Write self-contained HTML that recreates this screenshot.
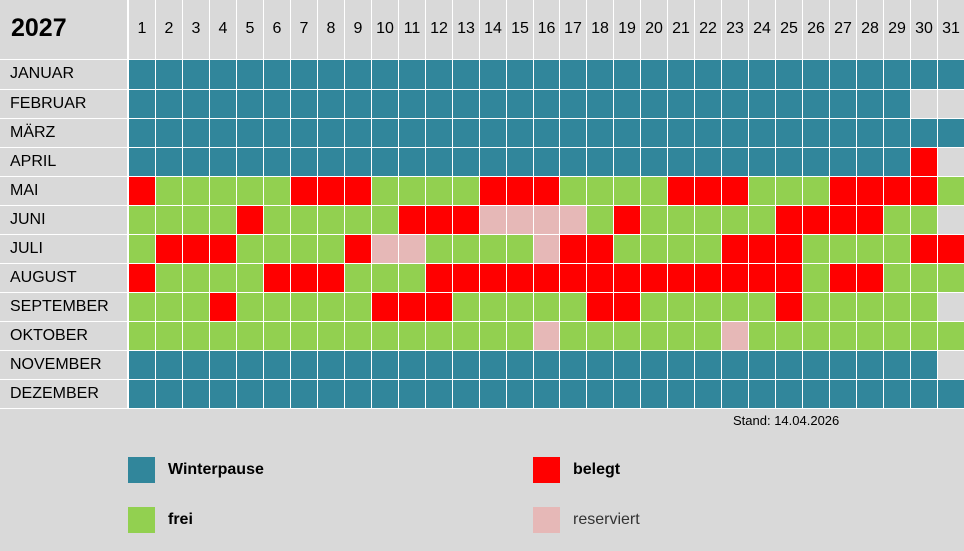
<!DOCTYPE html>
<html><head><meta charset="utf-8"><style>
body{margin:0;width:964px;height:551px;background:#D9D9D9;position:relative;overflow:hidden;font-family:"Liberation Sans",Calibri,sans-serif;}
#g{position:absolute;left:0;top:0;width:964px;height:409px;background:#fff;}
.c{position:absolute;}
.t{position:absolute;font-size:16px;color:#000;white-space:nowrap;}
</style></head><body>
<div id="g"></div>
<div class="t" style="left:11px;top:14px;font-size:25px;font-weight:bold;">2027</div>
<div class="t" style="left:733px;top:413px;font-size:13px;">Stand: 14.04.2026</div>
<div class="c" style="left:128px;top:457px;width:27px;height:26px;background:#31869B"></div>
<div class="t" style="left:168px;top:461px;font-weight:bold;">Winterpause</div>
<div class="c" style="left:128px;top:507px;width:27px;height:26px;background:#92D050"></div>
<div class="t" style="left:168px;top:511px;font-weight:bold;">frei</div>
<div class="c" style="left:533px;top:457px;width:27px;height:26px;background:#FF0000"></div>
<div class="t" style="left:573px;top:461px;font-weight:bold;">belegt</div>
<div class="c" style="left:533px;top:507px;width:27px;height:26px;background:#E6B8B7"></div>
<div class="t" style="left:573px;top:511px;color:#333;">reserviert</div>
<script>
var C={T:'#31869B',G:'#92D050',R:'#FF0000',P:'#E6B8B7',X:'#D9D9D9'};
var months=['JANUAR','FEBRUAR','MÄRZ','APRIL','MAI','JUNI','JULI','AUGUST','SEPTEMBER','OKTOBER','NOVEMBER','DEZEMBER'];
var rows=[
'TTTTTTTTTTTTTTTTTTTTTTTTTTTTTTT',
'TTTTTTTTTTTTTTTTTTTTTTTTTTTTTXX',
'TTTTTTTTTTTTTTTTTTTTTTTTTTTTTTT',
'TTTTTTTTTTTTTTTTTTTTTTTTTTTTTRX',
'RGGGGGRRRGGGGRRRGGGGRRRGGGRRRRG',
'GGGGRGGGGGRRRPPPPGRGGGGGRRRRGGX',
'GRRRGGGGRPPGGGGPRRGGGGRRRGGGGRR',
'RGGGGRRRGGGRRRRRRRRRRRRRRGRRGGG',
'GGGRGGGGGRRRGGGGGRRGGGGGRGGGGGX',
'GGGGGGGGGGGGGGGPGGGGGGPGGGGGGGG',
'TTTTTTTTTTTTTTTTTTTTTTTTTTTTTTX',
'TTTTTTTTTTTTTTTTTTTTTTTTTTTTTTT'];
var h='';
function xe(n){return Math.round(128+n*836/31);}
function box(x,y,w,hh,bg){return '<div class="c" style="left:'+x+'px;top:'+y+'px;width:'+w+'px;height:'+hh+'px;background:'+bg+'"></div>';}
h+=box(0,0,127,59,'#D9D9D9');
for(var n=0;n<31;n++){var x0=xe(n)+1,x1=xe(n+1);
 h+=box(x0,0,x1-x0,59,'#D9D9D9');
 h+='<div class="t" style="left:'+x0+'px;top:20px;width:'+(x1-x0)+'px;text-align:center;">'+(n+1)+'</div>';}
for(var r=0;r<12;r++){var y0=60+r*29+(r?1:0),y1=60+(r+1)*29;
 h+=box(0,y0,127,y1-y0,'#D9D9D9');
 h+='<div class="t" style="left:10px;top:'+(y0+5)+'px;">'+months[r]+'</div>';
 for(var n=0;n<31;n++){var x0=xe(n)+1,x1=xe(n+1);h+=box(x0,y0,x1-x0,y1-y0,C[rows[r][n]]);}}
document.getElementById('g').innerHTML=h;
</script>
</body></html>
